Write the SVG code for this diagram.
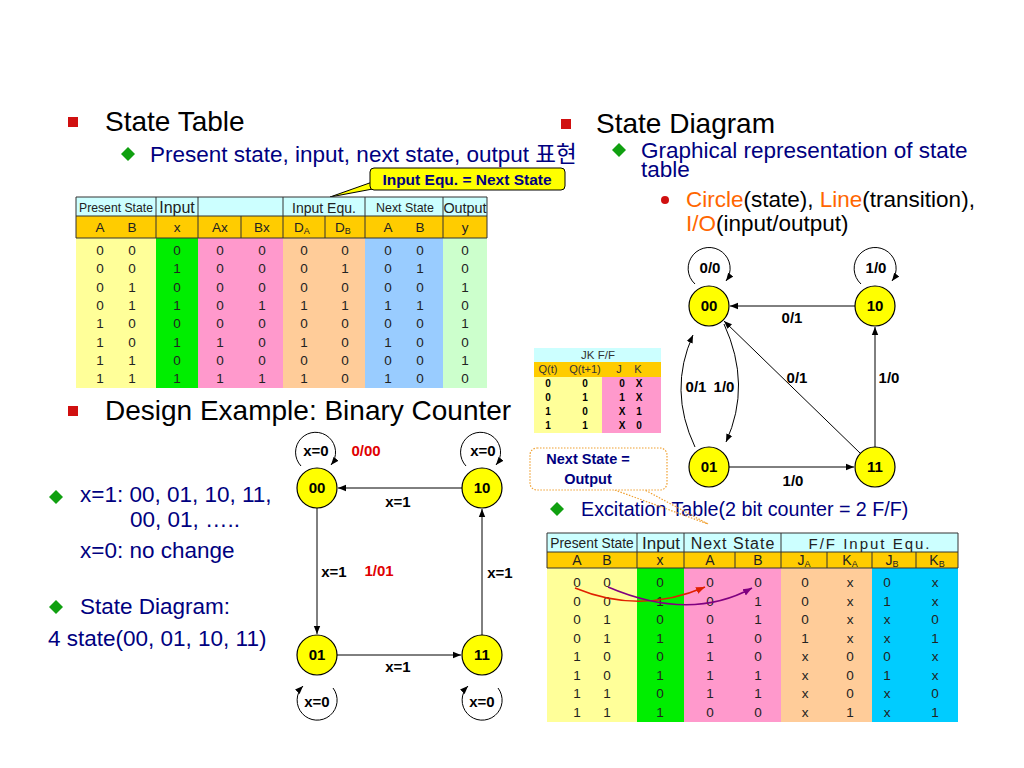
<svg xmlns="http://www.w3.org/2000/svg" width="1024" height="768" viewBox="0 0 1024 768">
<style>
text{font-family:"Liberation Sans","Noto Sans CJK KR",Arial,sans-serif}
.h1{font-size:28px;fill:#000}
.b2{font-size:22.5px;fill:#000080}
.td{font-size:13.5px;fill:#222;text-anchor:middle}
.th{font-size:12px;fill:#222;text-anchor:middle}
.jk{font-size:10px;font-weight:bold;fill:#000;text-anchor:middle}
.nl{font-size:15px;font-weight:bold;fill:#000;text-anchor:middle}
.el{font-size:15px;font-weight:bold;fill:#000;text-anchor:middle}
.red{fill:#e00000}
.st{fill:#ffff00;stroke:#000;stroke-width:1.2}
.ln{fill:none;stroke:#000;stroke-width:1}
.grid{stroke:#333;stroke-width:1;fill:none}
.org{fill:#ff6600}
</style>
<defs>
<marker id="ah" viewBox="0 0 10 10" refX="10" refY="5" markerWidth="8" markerHeight="8" markerUnits="userSpaceOnUse" orient="auto">
<path d="M0,1 L10,5 L0,9 Z" fill="#000"/>
</marker>
<marker id="ahr" viewBox="0 0 10 10" refX="10" refY="5" markerWidth="9" markerHeight="9" markerUnits="userSpaceOnUse" orient="auto">
<path d="M0,1 L10,5 L0,9 Z" fill="#e02000"/>
</marker>
<marker id="ahp" viewBox="0 0 10 10" refX="10" refY="5" markerWidth="9" markerHeight="9" markerUnits="userSpaceOnUse" orient="auto">
<path d="M0,1 L10,5 L0,9 Z" fill="#800080"/>
</marker>
</defs>
<rect width="1024" height="768" fill="#fff"/>

<!-- Titles -->
<g id="titles">
<rect x="68" y="117" width="10" height="10" fill="#d01010"/>
<text class="h1" x="105" y="131">State Table</text>
<path d="M128,147 L135,154 L128,161 L121,154 Z" fill="#10a010"/>
<text class="b2" x="150" y="162">Present state, input, next state, output 표현</text>
<rect x="561" y="119" width="10" height="10" fill="#d01010"/>
<text class="h1" x="596" y="133">State Diagram</text>
<path d="M619,143 L626,150 L619,157 L612,150 Z" fill="#10a010"/>
<text class="b2" x="641" y="158">Graphical representation of state</text>
<text class="b2" x="641" y="177">table</text>
<circle cx="665" cy="200" r="4" fill="#d01010"/>
<text x="686" y="207" style="font-size:22.5px;fill:#000"><tspan class="org">Circle</tspan>(state), <tspan class="org">Line</tspan>(transition),</text>
<text x="686" y="231" style="font-size:22.5px;fill:#000"><tspan class="org">I/O</tspan>(input/output)</text>
<rect x="68" y="406" width="10" height="10" fill="#d01010"/>
<text class="h1" x="105" y="420">Design Example: Binary Counter</text>
<path d="M56,490 L63,497 L56,504 L49,497 Z" fill="#10a010"/>
<text class="b2" x="80" y="502">x=1: 00, 01, 10, 11,</text>
<text class="b2" x="130" y="527">00, 01, …..</text>
<text class="b2" x="80" y="558">x=0: no change</text>
<path d="M56,600 L63,607 L56,614 L49,607 Z" fill="#10a010"/>
<text class="b2" x="80" y="614">State Diagram:</text>
<text class="b2" x="48" y="646">4 state(00, 01, 10, 11)</text>
<path d="M557,502 L564,509 L557,516 L550,509 Z" fill="#10a010"/>
<text x="581" y="516" style="font-size:19.7px;fill:#000080">Excitation Table(2 bit counter = 2 F/F)</text>
</g>

<!-- Callouts -->
<g id="callout-input">
<path d="M330,197 L378,180 L378,188 Z" fill="#ffff00" stroke="#000" stroke-width="1"/>
<rect x="370" y="168" width="195" height="22" rx="4" fill="#ffff00" stroke="#000" stroke-width="1"/>
<path d="M371,180 L380,180 L380,188" fill="#ffff00"/>
<text x="467" y="185" style="font-size:15.5px;font-weight:bold;fill:#000080;text-anchor:middle">Input Equ. = Next State</text>
</g>
<g id="callout-next">
<path d="M612,489 L708,524 M643,489 L708,524" stroke="#f0a030" stroke-width="1.2" stroke-dasharray="1.5,1.5" fill="none"/>
<rect x="530" y="448" width="137" height="42" rx="7" fill="#fff" stroke="#f0a030" stroke-width="1.2" stroke-dasharray="1.5,1.5"/>
<text x="588" y="464" style="font-size:14.5px;font-weight:bold;fill:#000080;text-anchor:middle">Next State =</text>
<text x="588" y="484" style="font-size:14.5px;font-weight:bold;fill:#000080;text-anchor:middle">Output</text>
</g>

<!-- State table -->
<g id="state-table">
<rect x="76" y="197" width="411" height="19" fill="#ccffff"/>
<rect x="76" y="216" width="411" height="22" fill="#ffcc00"/>
<rect x="76" y="238" width="80" height="150" fill="#ffff99"/>
<rect x="156" y="238" width="42" height="150" fill="#00ee00"/>
<rect x="198" y="238" width="85" height="150" fill="#ff99cc"/>
<rect x="283" y="238" width="82" height="150" fill="#ffcc99"/>
<rect x="365" y="238" width="78" height="150" fill="#99ccff"/>
<rect x="443" y="238" width="44" height="150" fill="#ccffcc"/>
<path class="grid" d="M76,197 H487 M76,216 H487 M76,238 H487 M76,197 V238 M487,197 V238 M156,197 V238 M198,197 V238 M283,197 V238 M365,197 V238 M443,197 V238 M241,216 V238 M325,216 V238"/>
<text class="th" x="116" y="212" style="font-size:12.2px">Present State</text>
<text class="th" x="177" y="213" style="font-size:16px">Input</text>
<text class="th" x="324" y="213" style="font-size:14px">Input Equ.</text>
<text class="th" x="405" y="212" style="font-size:12.4px">Next State</text>
<text class="th" x="465" y="213" style="font-size:14.4px">Output</text>
<g class="td">
<text x="100" y="232">A</text><text x="132" y="232">B</text><text x="177" y="232">x</text><text x="220" y="232">Ax</text><text x="262" y="232">Bx</text>
<text x="302" y="232">D<tspan font-size="9" dy="2">A</tspan></text><text x="343" y="232">D<tspan font-size="9" dy="2">B</tspan></text>
<text x="388" y="232">A</text><text x="420" y="232">B</text><text x="465" y="232">y</text>
</g>
<g class="td">
<text x="100" y="255">0</text><text x="132" y="255">0</text><text x="177" y="255">0</text><text x="220" y="255">0</text><text x="262" y="255">0</text><text x="304" y="255">0</text><text x="345" y="255">0</text><text x="388" y="255">0</text><text x="420" y="255">0</text><text x="465" y="255">0</text>
<text x="100" y="273">0</text><text x="132" y="273">0</text><text x="177" y="273">1</text><text x="220" y="273">0</text><text x="262" y="273">0</text><text x="304" y="273">0</text><text x="345" y="273">1</text><text x="388" y="273">0</text><text x="420" y="273">1</text><text x="465" y="273">0</text>
<text x="100" y="292">0</text><text x="132" y="292">1</text><text x="177" y="292">0</text><text x="220" y="292">0</text><text x="262" y="292">0</text><text x="304" y="292">0</text><text x="345" y="292">0</text><text x="388" y="292">0</text><text x="420" y="292">0</text><text x="465" y="292">1</text>
<text x="100" y="310">0</text><text x="132" y="310">1</text><text x="177" y="310">1</text><text x="220" y="310">0</text><text x="262" y="310">1</text><text x="304" y="310">1</text><text x="345" y="310">1</text><text x="388" y="310">1</text><text x="420" y="310">1</text><text x="465" y="310">0</text>
<text x="100" y="328">1</text><text x="132" y="328">0</text><text x="177" y="328">0</text><text x="220" y="328">0</text><text x="262" y="328">0</text><text x="304" y="328">0</text><text x="345" y="328">0</text><text x="388" y="328">0</text><text x="420" y="328">0</text><text x="465" y="328">1</text>
<text x="100" y="347">1</text><text x="132" y="347">0</text><text x="177" y="347">1</text><text x="220" y="347">1</text><text x="262" y="347">0</text><text x="304" y="347">1</text><text x="345" y="347">0</text><text x="388" y="347">1</text><text x="420" y="347">0</text><text x="465" y="347">0</text>
<text x="100" y="365">1</text><text x="132" y="365">1</text><text x="177" y="365">0</text><text x="220" y="365">0</text><text x="262" y="365">0</text><text x="304" y="365">0</text><text x="345" y="365">0</text><text x="388" y="365">0</text><text x="420" y="365">0</text><text x="465" y="365">1</text>
<text x="100" y="383">1</text><text x="132" y="383">1</text><text x="177" y="383">1</text><text x="220" y="383">1</text><text x="262" y="383">1</text><text x="304" y="383">1</text><text x="345" y="383">0</text><text x="388" y="383">1</text><text x="420" y="383">0</text><text x="465" y="383">0</text>
</g>
</g>

<!-- JK F/F table -->
<g id="jk-table">
<rect x="534" y="348" width="127" height="14" fill="#ccffff"/>
<rect x="534" y="362" width="127" height="15" fill="#ffcc00"/>
<rect x="534" y="377" width="68" height="56" fill="#ffff99"/>
<rect x="602" y="377" width="59" height="56" fill="#ff99cc"/>
<text x="598" y="359" style="font-size:11.5px;fill:#333;text-anchor:middle">JK F/F</text>
<g style="font-size:11px;fill:#333;text-anchor:middle">
<text x="548" y="373">Q(t)</text><text x="585" y="373">Q(t+1)</text><text x="619" y="373">J</text><text x="638" y="373">K</text>
</g>
<g class="jk">
<text x="548" y="387">0</text><text x="585" y="387">0</text><text x="622" y="387">0</text><text x="639" y="387">X</text>
<text x="548" y="401">0</text><text x="585" y="401">1</text><text x="622" y="401">1</text><text x="639" y="401">X</text>
<text x="548" y="415">1</text><text x="585" y="415">0</text><text x="622" y="415">X</text><text x="639" y="415">1</text>
<text x="548" y="429">1</text><text x="585" y="429">1</text><text x="622" y="429">X</text><text x="639" y="429">0</text>
</g>
</g>

<!-- Excitation table -->
<g id="excitation-table">
<rect x="547" y="533" width="411" height="19" fill="#ccffff"/>
<rect x="547" y="552" width="411" height="16" fill="#ffcc00"/>
<rect x="547" y="568" width="90" height="154" fill="#ffff99"/>
<rect x="637" y="568" width="47" height="154" fill="#00ee00"/>
<rect x="684" y="568" width="97" height="154" fill="#ff99cc"/>
<rect x="781" y="568" width="91" height="154" fill="#ffcc99"/>
<rect x="872" y="568" width="86" height="154" fill="#00ccff"/>
<path class="grid" d="M547,533 H958 M547,552 H958 M547,568 H958 M547,533 V568 M958,533 V568 M637,533 V568 M684,533 V568 M781,533 V568 M735,552 V568 M827,552 V568 M872,552 V568 M916,552 V568"/>
<text class="th" x="592" y="548" style="font-size:13.8px">Present State</text>
<text class="th" x="661" y="549" style="font-size:17px">Input</text>
<text class="th" x="733" y="549" style="font-size:16px;letter-spacing:1px">Next State</text>
<text class="th" x="870" y="549" style="font-size:15px;letter-spacing:2px">F/F Input Equ.</text>
<g class="td" style="font-size:14px">
<text x="577" y="565">A</text><text x="607" y="565">B</text><text x="660" y="565">x</text><text x="710" y="565">A</text><text x="758" y="565">B</text>
<text x="804" y="565">J<tspan font-size="9" dy="2">A</tspan></text><text x="850" y="565">K<tspan font-size="9" dy="2">A</tspan></text>
<text x="892" y="565">J<tspan font-size="9" dy="2">B</tspan></text><text x="937" y="565">K<tspan font-size="9" dy="2">B</tspan></text>
</g>
<g class="td">
<text x="577" y="587">0</text><text x="607" y="587">0</text><text x="660" y="587">0</text><text x="710" y="587">0</text><text x="758" y="587">0</text><text x="805" y="587">0</text><text x="850" y="587">x</text><text x="887" y="587">0</text><text x="935" y="587">x</text>
<text x="577" y="606">0</text><text x="607" y="606">0</text><text x="660" y="606">1</text><text x="710" y="606">0</text><text x="758" y="606">1</text><text x="805" y="606">0</text><text x="850" y="606">x</text><text x="887" y="606">1</text><text x="935" y="606">x</text>
<text x="577" y="624">0</text><text x="607" y="624">1</text><text x="660" y="624">0</text><text x="710" y="624">0</text><text x="758" y="624">1</text><text x="805" y="624">0</text><text x="850" y="624">x</text><text x="887" y="624">x</text><text x="935" y="624">0</text>
<text x="577" y="643">0</text><text x="607" y="643">1</text><text x="660" y="643">1</text><text x="710" y="643">1</text><text x="758" y="643">0</text><text x="805" y="643">1</text><text x="850" y="643">x</text><text x="887" y="643">x</text><text x="935" y="643">1</text>
<text x="577" y="661">1</text><text x="607" y="661">0</text><text x="660" y="661">0</text><text x="710" y="661">1</text><text x="758" y="661">0</text><text x="805" y="661">x</text><text x="850" y="661">0</text><text x="887" y="661">0</text><text x="935" y="661">x</text>
<text x="577" y="680">1</text><text x="607" y="680">0</text><text x="660" y="680">1</text><text x="710" y="680">1</text><text x="758" y="680">1</text><text x="805" y="680">x</text><text x="850" y="680">0</text><text x="887" y="680">1</text><text x="935" y="680">x</text>
<text x="577" y="698">1</text><text x="607" y="698">1</text><text x="660" y="698">0</text><text x="710" y="698">1</text><text x="758" y="698">1</text><text x="805" y="698">x</text><text x="850" y="698">0</text><text x="887" y="698">x</text><text x="935" y="698">0</text>
<text x="577" y="717">1</text><text x="607" y="717">1</text><text x="660" y="717">1</text><text x="710" y="717">0</text><text x="758" y="717">0</text><text x="805" y="717">x</text><text x="850" y="717">1</text><text x="887" y="717">x</text><text x="935" y="717">1</text>
</g>
<path d="M575,588 Q640,615 705,587" fill="none" stroke="#e02000" stroke-width="1.5" marker-end="url(#ahr)"/>
<path d="M608,587 Q690,622 752,588" fill="none" stroke="#800080" stroke-width="1.5" marker-end="url(#ahp)"/>
</g>

<!-- Right state diagram connectors -->
<g id="connectors-right" class="ln">
<path d="M695,284 A21,21 0 1 1 726,281" marker-end="url(#ah)"/>
<path d="M861,284 A21,21 0 1 1 892,281" marker-end="url(#ah)"/>
<path d="M855,306 L730,306" marker-end="url(#ah)"/>
<path d="M860,453 L724,321" marker-end="url(#ah)"/>
<path d="M875,447 L875,327" marker-end="url(#ah)"/>
<path d="M729,467 L854,467" marker-end="url(#ah)"/>
<path d="M695,447 Q668,390 693,335" marker-end="url(#ah)"/>
<path d="M724,324 Q752,385 726,442" marker-end="url(#ah)"/>
</g>
<g id="labels-right">
<text class="el" x="710" y="273">0/0</text>
<text class="el" x="876" y="273">1/0</text>
<text class="el" x="792" y="323">0/1</text>
<text class="el" x="797" y="383">0/1</text>
<text class="el" x="889" y="383">1/0</text>
<text class="el" x="696" y="392">0/1</text>
<text class="el" x="724" y="392">1/0</text>
<text class="el" x="793" y="486">1/0</text>
</g>
<g id="r00"><circle class="st" cx="709" cy="306" r="20"/><text class="nl" x="709" y="311">00</text></g>
<g id="r10"><circle class="st" cx="875" cy="306" r="20"/><text class="nl" x="875" y="311">10</text></g>
<g id="r01"><circle class="st" cx="709" cy="467" r="20"/><text class="nl" x="709" y="472">01</text></g>
<g id="r11"><circle class="st" cx="875" cy="467" r="20"/><text class="nl" x="875" y="472">11</text></g>

<!-- Binary counter connectors -->
<g id="connectors-counter" class="ln">
<path d="M301,466 A20,20 0 1 1 331,465" marker-end="url(#ah)"/>
<path d="M466,466 A20,20 0 1 1 496,465" marker-end="url(#ah)"/>
<path d="M333,688 A20,20 0 1 1 303,686" marker-end="url(#ah)"/>
<path d="M498,688 A20,20 0 1 1 468,686" marker-end="url(#ah)"/>
<path d="M462,488 L338,488" marker-end="url(#ah)"/>
<path d="M317,508 L317,634" marker-end="url(#ah)"/>
<path d="M337,655 L461,655" marker-end="url(#ah)"/>
<path d="M482,635 L482,509" marker-end="url(#ah)"/>
</g>
<g id="labels-counter">
<text class="el" x="316" y="456">x=0</text>
<text class="el" x="483" y="456">x=0</text>
<text class="el red" x="366" y="456">0/00</text>
<text class="el" x="398" y="507">x=1</text>
<text class="el" x="334" y="577">x=1</text>
<text class="el red" x="379" y="576">1/01</text>
<text class="el" x="500" y="578">x=1</text>
<text class="el" x="398" y="672">x=1</text>
<text class="el" x="317" y="707">x=0</text>
<text class="el" x="482" y="707">x=0</text>
</g>
<g id="c00"><circle class="st" cx="317" cy="488" r="20"/><text class="nl" x="317" y="493">00</text></g>
<g id="c10"><circle class="st" cx="482" cy="488" r="20"/><text class="nl" x="482" y="493">10</text></g>
<g id="c01"><circle class="st" cx="317" cy="655" r="20"/><text class="nl" x="317" y="660">01</text></g>
<g id="c11"><circle class="st" cx="482" cy="655" r="20"/><text class="nl" x="482" y="660">11</text></g>
</svg>
